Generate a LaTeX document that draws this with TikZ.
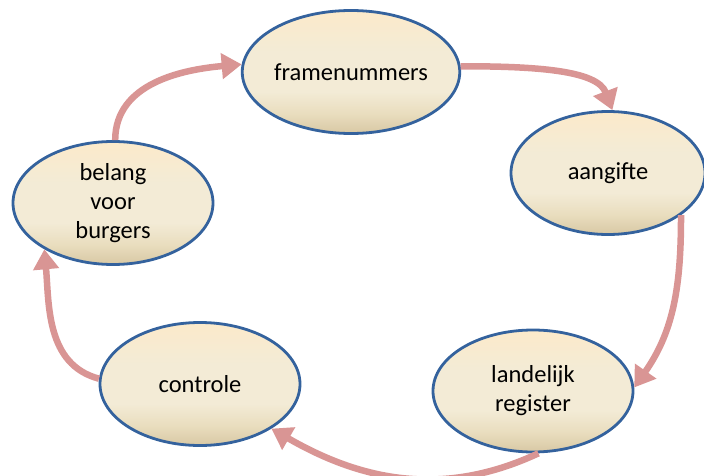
\documentclass[tikz,border=0pt]{standalone}
\usepackage{fontspec}
\setmainfont{Carlito}
\usetikzlibrary{shapes.geometric,arrows.meta}
\definecolor{arrowc}{HTML}{D99594}
\definecolor{edgec}{HTML}{34629D}
\definecolor{topc}{HTML}{FCEACA}
\definecolor{midc}{HTML}{F3EBD6}
\definecolor{midb}{HTML}{E9DDBE}
\definecolor{botc}{HTML}{D8C8A4}
\pgfdeclareverticalshading{bubshade}{100bp}{color(0bp)=(botc); color(25bp)=(botc); color(33bp)=(midb); color(42bp)=(midc); color(58bp)=(midc); color(75bp)=(topc); color(100bp)=(topc)}
\begin{document}
\begin{tikzpicture}[x=1pt,y=1pt,
  bubble/.style={ellipse, draw=edgec, line width=2.8pt, minimum width=200pt, minimum height=123pt,
    shade, shading=bubshade,
    font=\fontsize{24.5}{29}\selectfont, align=center, inner sep=0pt},
  flow/.style={draw=arrowc, line width=6.5pt, -{Triangle[length=20pt,width=25pt]}}]
\useasboundingbox (0,0) rectangle (704,475);
\node[bubble] (fr) at (351,403) {framenummers};
\node[bubble, minimum width=194pt] (ang) at (608,302) {aangifte};
\node[bubble, minimum height=122pt] (lr) at (533,84) {landelijk\\register};
\node[bubble] (co) at (200,91) {controle};
\node[bubble] (bv) at (113,272) {belang\\voor\\burgers};
\draw[flow] (fr.3) .. controls +(75,0) and +(-15,40) .. (ang.86);
\draw[flow] (ang.-30) to[out=-90,in=55] (lr.2);
\draw[flow] (lr.-85) to[out=-155,in=-30] (co.-32);
\draw[flow] (co.177) to[out=165,in=-85] (bv.214);
\draw[flow] (bv.88) to[out=90,in=185] (fr.176);
\end{tikzpicture}
\end{document}
